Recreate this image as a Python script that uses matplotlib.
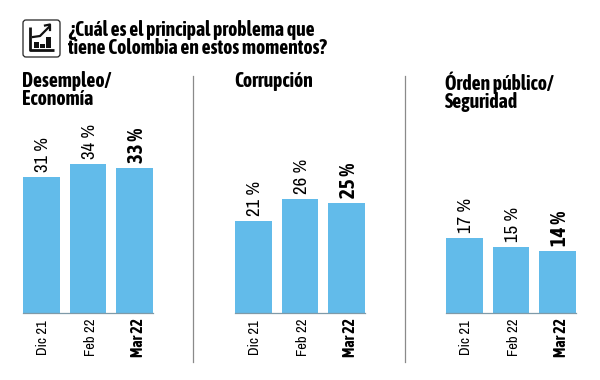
import matplotlib
matplotlib.use("Agg")
import matplotlib.pyplot as plt
from matplotlib.patches import FancyBboxPatch, Rectangle
from matplotlib import font_manager as fm

title = "¿Cuál es el principal problema que\ntiene Colombia en estos momentos?"
periods = ["Dic 21", "Feb 22", "Mar 22"]
panel_titles = ["Desempleo/\nEconomía", "Corrupción", "Órden público/\nSeguridad"]
desempleo = [31, 34, 33]
corrupcion = [21, 26, 25]
orden = [17, 15, 14]
series = [desempleo, corrupcion, orden]

W, H = 600, 380
names = {f.name for f in fm.fontManager.ttflist}
def pick(*opts):
    return next((n for n in opts if n in names), "Liberation Sans")
regular = pick("Archivo Narrow", "PT Sans Narrow")
heavy = pick("Asap Condensed", "PT Sans Narrow", "Barlow Condensed")
plt.rcParams["font.family"] = [regular, "DejaVu Sans"]
BLUE = "#62BBEA"

fig = plt.figure(figsize=(6, 3.8), dpi=100, facecolor="white")
bg = fig.add_axes([0, 0, 1, 1])
bg.set_xlim(0, W); bg.set_ylim(H, 0); bg.axis("off")

# icon
bg.add_patch(FancyBboxPatch((23, 20), 37, 37, boxstyle="round,pad=0,rounding_size=3",
                            fc="white", ec="#222222", lw=0.9))
bg.plot([30, 30, 54], [27, 50, 50], color="#111111", lw=2, solid_capstyle="butt")
bg.plot([33, 40, 45, 49], [37, 36, 31, 27], color="#111111", lw=1.6)
bg.plot([45, 50, 50], [25.5, 24.5, 30], color="#111111", lw=1.6)
for x0, y0 in [(34, 42), (40, 44), (46, 37)]:
    bg.add_patch(Rectangle((x0, y0), 4.5, 48 - y0, fc="#111111", ec="none"))

bg.text(68, 39, title, fontsize=14.1, fontweight="bold", family=[heavy, "DejaVu Sans"],
        va="center", ha="left", color="black", linespacing=0.84)

# separators
for x in (193.2, 405.2):
    bg.plot([x, x], [76, 362], color="#8a8a8a", lw=0.9)

lefts = [23, 235, 446]
title_x = [22, 234, 445]
per_unit = 4.37
pitch, bw = 46.7, 36.5
label_shift = [1.0, 2.0, 2.6]  # points

for left, tx, ttl, vals in zip(lefts, title_x, panel_titles, series):
    ax = fig.add_axes([(left - 5.1) / W, (H - 312.5) / H, 140 / W, 200 / H])
    ax.set_xlim(-0.5, -0.5 + 140 / pitch)
    ax.set_ylim(0, 200 / per_unit)
    ax.axis("off")
    ax.patch.set_alpha(0)
    xs = [0, 1, 2]
    ax.bar(xs, vals, width=bw / pitch, color=BLUE, ec="none")
    ax.plot([-0.39, 2.39], [0, 0], color="#7f9aa8", lw=0.9, clip_on=False)
    for i, (x, v, p) in enumerate(zip(xs, vals, periods)):
        last = i == 2
        fam = [heavy, "DejaVu Sans"] if last else [regular, "DejaVu Sans"]
        w = "bold" if last else "normal"
        ax.annotate(f"{v} %", (x, v), xytext=(1.5, 3.5), textcoords="offset points",
                    rotation=90, ha="center", va="bottom",
                    fontsize=15 if last else 13.5,
                    fontweight=w, family=fam, color="black")
        ax.annotate(p, (x, 0), xytext=(label_shift[i], -17.8), textcoords="offset points",
                    rotation=90, ha="center", va="center",
                    fontsize=11.2 if last else 10.5,
                    fontweight=w, family=fam, color="black", annotation_clip=False)
    bg.text(tx, 71, ttl, fontsize=14.1, fontweight="bold", family=[heavy, "DejaVu Sans"],
            va="top", ha="left", color="black", linespacing=0.9)

fig.savefig("out.png", dpi=100)
